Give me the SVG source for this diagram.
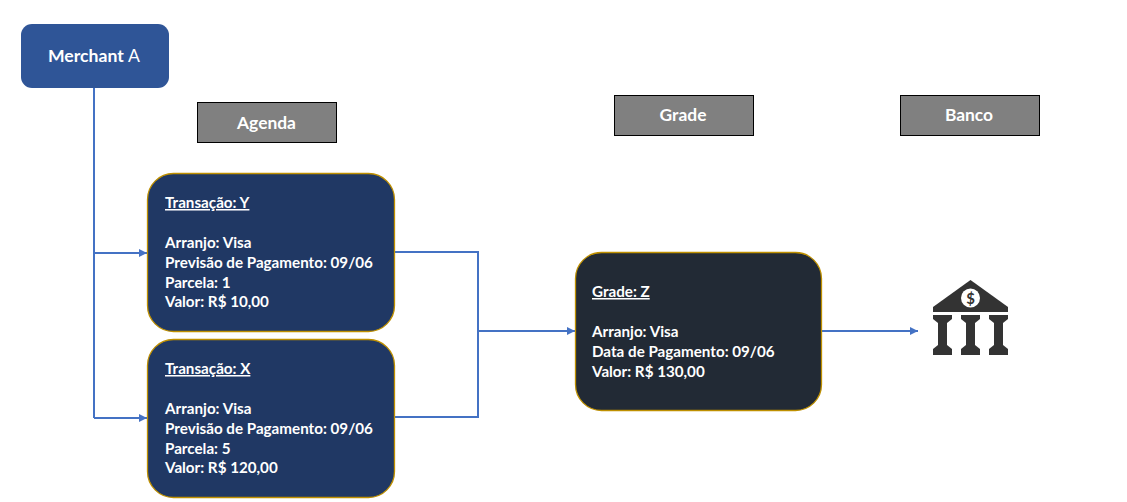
<svg xmlns="http://www.w3.org/2000/svg" width="1127" height="502" viewBox="0 0 1127 502">
<style>
text{font-family:"Lato","Open Sans","Liberation Sans",sans-serif;font-weight:700;fill:#fff}
.b{font-size:15.200px}
.h{font-size:17.400px;text-anchor:middle}
.card{stroke:#bf9000;stroke-width:1.3}
.lbl{fill:#808080;stroke:#000;stroke-width:1}
.c{fill:none;stroke:#4472c4;stroke-width:2}
.bank{fill:#333}
</style>
<defs>
<marker id="a" markerUnits="userSpaceOnUse" markerWidth="9" markerHeight="8" refX="8" refY="4" orient="auto"><path d="M0 0L8 4L0 8Z" fill="#4472c4"/></marker>
</defs>
<g id="connectors">
<path class="c" d="M94 88V418"/>
<path class="c" marker-end="url(#a)" d="M94 253H147"/>
<path class="c" marker-end="url(#a)" d="M94 418H147"/>
<path class="c" d="M395 252H478V417H395"/>
<path class="c" marker-end="url(#a)" d="M478 331H575"/>
<path class="c" marker-end="url(#a)" d="M822 331H918"/>
</g>
<g id="merchant">
<rect x="21" y="24" width="148" height="64" rx="11" fill="#2f5597"/>
<text x="48" y="61.500" font-size="17.600px">Merchant <tspan font-weight="400">A</tspan></text>
</g>
<g id="agenda"><rect class="lbl" x="197.500" y="102.500" width="139" height="40"/><text class="h" x="266.500" y="129">Agenda</text></g>
<g id="grade"><rect class="lbl" x="614.500" y="95.500" width="139" height="40"/><text class="h" x="683" y="121">Grade</text></g>
<g id="banco"><rect class="lbl" x="900.500" y="95.500" width="139" height="40"/><text class="h" x="969" y="121">Banco</text></g>
<g id="transacao-y">
<rect class="card" x="147.500" y="173.500" width="247" height="158" rx="26" fill="#203864"/>
<text class="b" x="165" y="208" text-decoration="underline">Transação: Y</text>
<text class="b" x="165" y="248">Arranjo: Visa</text>
<text class="b" x="165" y="268">Previsão de Pagamento: 09/06</text>
<text class="b" x="165" y="288">Parcela: 1</text>
<text class="b" x="165" y="307">Valor: R$ 10,00</text>
</g>
<g id="transacao-x">
<rect class="card" x="147.500" y="339.500" width="247" height="158" rx="26" fill="#203864"/>
<text class="b" x="165" y="374" text-decoration="underline">Transação: X</text>
<text class="b" x="165" y="414">Arranjo: Visa</text>
<text class="b" x="165" y="434">Previsão de Pagamento: 09/06</text>
<text class="b" x="165" y="454">Parcela: 5</text>
<text class="b" x="165" y="473">Valor: R$ 120,00</text>
</g>
<g id="grade-z">
<rect class="card" x="575.500" y="252.500" width="246" height="158" rx="26" fill="#222a35"/>
<text class="b" x="592" y="297" text-decoration="underline">Grade: Z</text>
<text class="b" x="592" y="337">Arranjo: Visa</text>
<text class="b" x="592" y="357">Data de Pagamento: 09/06</text>
<text class="b" x="592" y="377">Valor: R$ 130,00</text>
</g>
<g id="bank-icon">
<path class="bank" d="M970.500 280L1008 307V312H933V307Z"/>
<circle cx="970.500" cy="298" r="9.500" fill="#fff"/>
<text x="970.500" y="303.500" font-size="15px" text-anchor="middle" style="fill:#333">$</text>
<path class="bank" d="M933 315H952V319L947 323V345L952 349V355H933V349L938 345V323L933 319Z"/>
<path class="bank" d="M961 315H980V319L975 323V345L980 349V355H961V349L966 345V323L961 319Z"/>
<path class="bank" d="M989 315H1008V319L1003 323V345L1008 349V355H989V349L994 345V323L989 319Z"/>
</g>
</svg>
